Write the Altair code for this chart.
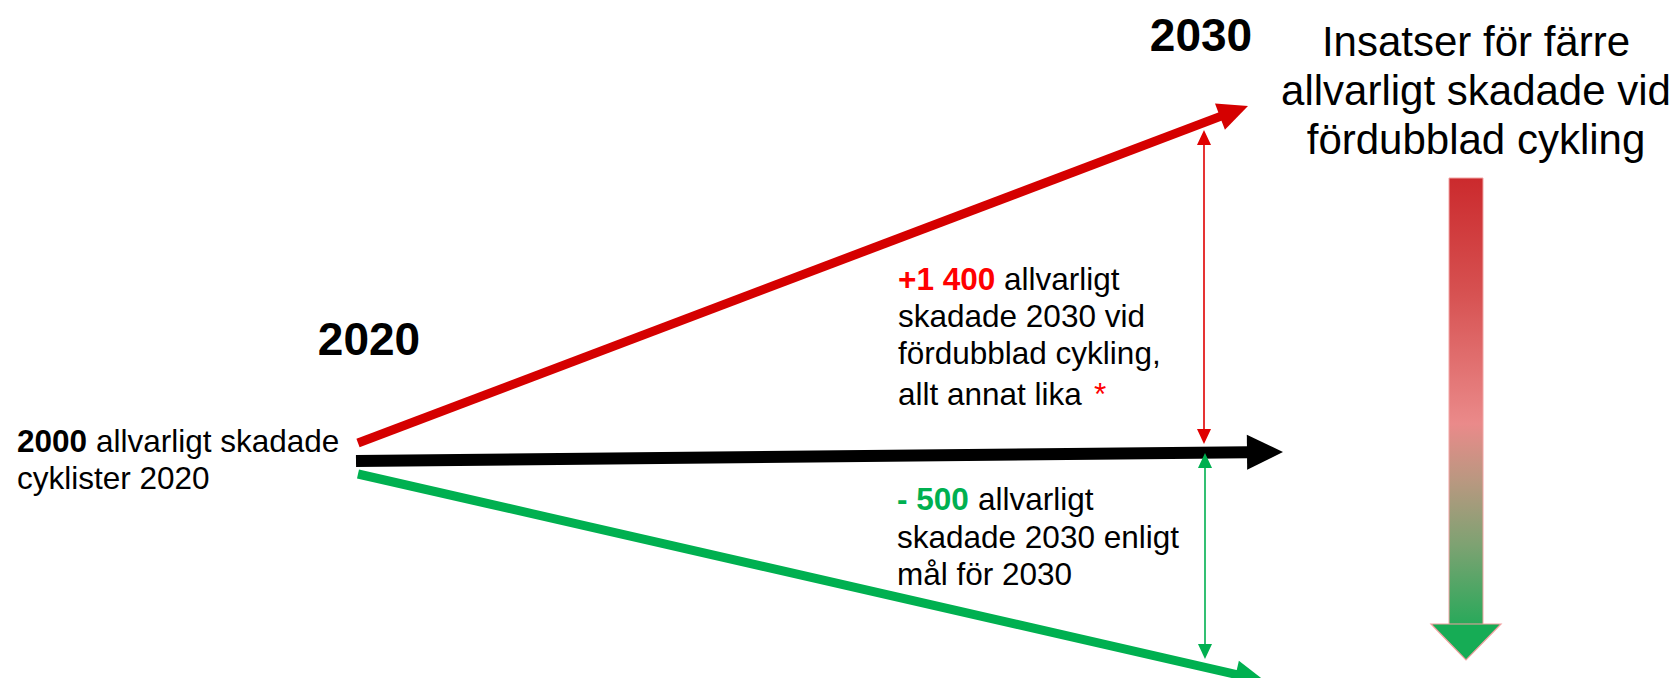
import math
import altair as alt
import pandas as pd

# ---------------- data (diagram coordinates, in reference pixels) ----------------
W, H = 1662, 670
OX, OY = 8, 8

# main trend arrows: start point and tip
arrow_names = ["okning", "oforandrat", "mal"]
arrow_x0 = [358, 356, 358]
arrow_y0 = [443, 461, 474]
arrow_x1 = [1248, 1283, 1265]
arrow_y1 = [106, 452, 681]
arrow_colors = ["#D50000", "#000000", "#00B050"]
arrow_widths = [9, 12, 9]
arrow_head_len = [30, 36, 30]
arrow_head_half = [14, 17.5, 14]

# thin double-headed difference arrows
diff_x = [1204, 1205]
diff_top = [130, 453]
diff_bottom = [444, 659]
diff_colors = ["#E00000", "#00B050"]

# gradient arrow
grad_x = [1449, 1483]
grad_y = [178, 624]
grad_tip = 660
grad_head_half = 35

BODY = 31.5
# texts: text, x, y(baseline), size, weight, color, align
text_items = [
    ("2020", 369, 355, 46, "bold", "#000000", "center"),
    ("2030", 1201, 51, 46, "bold", "#000000", "center"),
    ("2000", 17, 452, BODY, "bold", "#000000", "left"),
    ("allvarligt skadade", 96, 452, BODY, "normal", "#000000", "left"),
    ("cyklister 2020", 17, 489, BODY, "normal", "#000000", "left"),
    ("+1 400", 898, 290, BODY, "bold", "#FF0000", "left"),
    ("allvarligt", 1004, 290, BODY, "normal", "#000000", "left"),
    ("skadade 2030 vid", 898, 327, BODY, "normal", "#000000", "left"),
    ("fördubblad cykling,", 898, 364, BODY, "normal", "#000000", "left"),
    ("allt annat lika", 898, 405, BODY, "normal", "#000000", "left"),
    ("*", 1094, 405, BODY, "normal", "#FF0000", "left"),
    ("- 500", 897, 510, BODY, "bold", "#00B050", "left"),
    ("allvarligt", 978, 510, BODY, "normal", "#000000", "left"),
    ("skadade 2030 enligt", 897, 548, BODY, "normal", "#000000", "left"),
    ("mål för 2030", 897, 585, BODY, "normal", "#000000", "left"),
]
title_lines = ["Insatser för färre", "allvarligt skadade vid", "fördubblad cykling"]
title_x = 1476
title_y = [56, 105, 154]

# ---------------- scales ----------------
xs = alt.Scale(domain=[OX, OX + W], nice=False, zero=False)
ys = alt.Scale(domain=[OY, OY + H], nice=False, zero=False, reverse=True)
X = lambda f="x": alt.X(f"{f}:Q", scale=xs, axis=None)
Y = lambda f="y": alt.Y(f"{f}:Q", scale=ys, axis=None)

layers = []

# main arrow shafts + heads
R = 16.0  # shape unit radius -> size = (2R)^2
for i, name in enumerate(arrow_names):
    dx = arrow_x1[i] - arrow_x0[i]
    dy = arrow_y1[i] - arrow_y0[i]
    d = math.hypot(dx, dy)
    ux, uy = dx / d, dy / d
    L = arrow_head_len[i]
    ex, ey = arrow_x1[i] - ux * (L - 2), arrow_y1[i] - uy * (L - 2)
    shaft = pd.DataFrame({"x": [arrow_x0[i], ex], "y": [arrow_y0[i], ey], "o": [0, 1]})
    layers.append(
        alt.Chart(shaft).mark_line(color=arrow_colors[i], strokeWidth=arrow_widths[i], strokeCap="butt")
        .encode(x=X(), y=Y(), order="o:Q")
    )
    ang = math.degrees(math.atan2(dy, dx)) % 360
    shape = f"M0,0L{-L / R:.3f},{-arrow_head_half[i] / R:.3f}L{-L / R:.3f},{arrow_head_half[i] / R:.3f}Z"
    head = pd.DataFrame({"x": [arrow_x1[i]], "y": [arrow_y1[i]], "a": [ang]})
    layers.append(
        alt.Chart(head).mark_point(shape=shape, filled=True, color=arrow_colors[i], opacity=1,
                                   size=(2 * R) ** 2, strokeWidth=0)
        .encode(x=X(), y=Y(), angle=alt.Angle("a:Q", scale=None))
    )

# thin double-headed arrows
tl, th = 15, 7
for i in range(len(diff_x)):
    seg = pd.DataFrame({"x": [diff_x[i], diff_x[i]], "y": [diff_top[i] + tl - 1, diff_bottom[i] - tl + 1]})
    layers.append(
        alt.Chart(seg).mark_line(color=diff_colors[i], strokeWidth=1.6).encode(x=X(), y=Y())
    )
    shape = f"M0,0L{-tl / R:.3f},{-th / R:.3f}L{-tl / R:.3f},{th / R:.3f}Z"
    heads = pd.DataFrame({"x": [diff_x[i], diff_x[i]], "y": [diff_top[i], diff_bottom[i]], "a": [270, 90]})
    layers.append(
        alt.Chart(heads).mark_point(shape=shape, filled=True, color=diff_colors[i], opacity=1,
                                    size=(2 * R) ** 2, strokeWidth=0)
        .encode(x=X(), y=Y(), angle=alt.Angle("a:Q", scale=None))
    )

# gradient arrow
grad = alt.Gradient(
    gradient="linear", x1=0, x2=0, y1=0, y2=1,
    stops=[
        alt.GradientStop(offset=0.0, color="#CB2A2D"),
        alt.GradientStop(offset=0.25, color="#D65050"),
        alt.GradientStop(offset=0.55, color="#EA8A8A"),
        alt.GradientStop(offset=0.68, color="#B89880"),
        alt.GradientStop(offset=0.82, color="#7EA272"),
        alt.GradientStop(offset=1.0, color="#28A95A"),
    ],
)
shaft_df = pd.DataFrame({"x": [grad_x[0]], "x2": [grad_x[1]], "y": [grad_y[0]], "y2": [grad_y[1] + 1]})
layers.append(
    alt.Chart(shaft_df).mark_rect(color=grad, stroke="#F2A5A5", strokeWidth=1)
    .encode(x=X(), x2="x2:Q", y=Y(), y2="y2:Q")
)
hx = (grad_x[0] + grad_x[1]) / 2
hh = grad_tip - grad_y[1]
gshape = f"M{-grad_head_half / R:.3f},0L{grad_head_half / R:.3f},0L0,{hh / R:.3f}Z"
gh = pd.DataFrame({"x": [hx], "y": [grad_y[1]]})
layers.append(
    alt.Chart(gh).mark_point(shape=gshape, filled=True, color="#16AC55", opacity=1,
                             size=(2 * R) ** 2, stroke="#F2A0A0", strokeWidth=1.2)
    .encode(x=X(), y=Y())
)

# texts
for (t, x, y, s, w, c, a) in text_items:
    df = pd.DataFrame({"x": [x], "y": [y], "t": [t]})
    layers.append(
        alt.Chart(df).mark_text(font="Liberation Sans", fontSize=s, fontWeight=w, color=c,
                                align=a, baseline="alphabetic")
        .encode(x=X(), y=Y(), text="t:N")
    )

tdf = pd.DataFrame({"x": [title_x] * 3, "y": title_y, "t": title_lines})
layers.append(
    alt.Chart(tdf).mark_text(font="Liberation Sans", fontSize=42, color="#000000",
                             align="center", baseline="alphabetic")
    .encode(x=X(), y=Y(), text="t:N")
)

chart = (
    alt.layer(*layers)
    .properties(width=W, height=H, padding=0, autosize=alt.AutoSizeParams(type="none"),
                background="white")
    .configure_view(stroke=None)
)

chart.save("out.html", embed_options={"renderer": "svg", "actions": False})
